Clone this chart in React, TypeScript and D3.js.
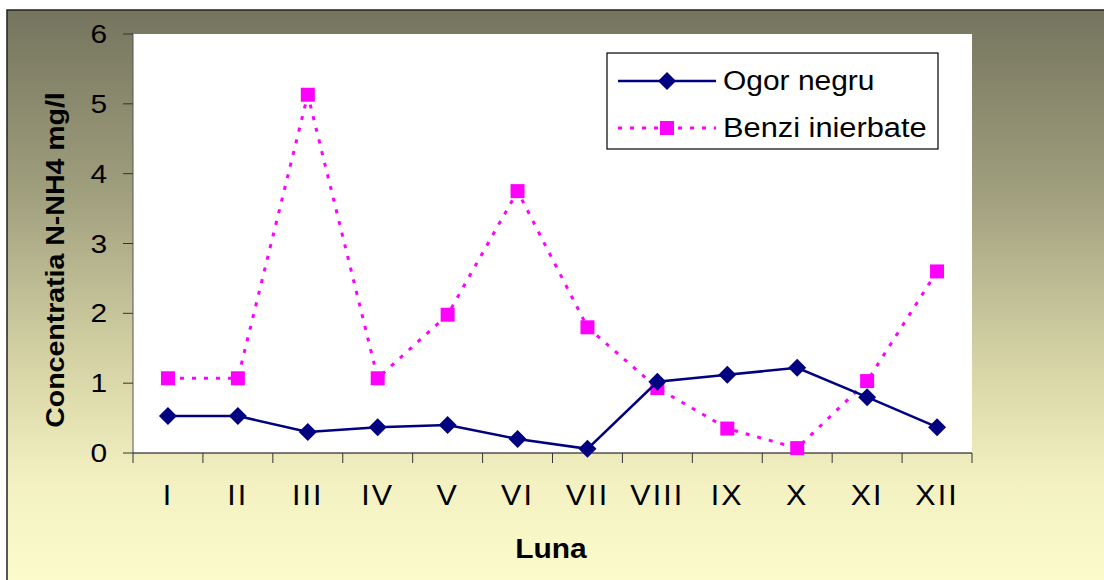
import React from 'react';
import * as d3 from 'd3';

const months = ['I', 'II', 'III', 'IV', 'V', 'VI', 'VII', 'VIII', 'IX', 'X', 'XI', 'XII'];
const ogorNegru = [0.53, 0.53, 0.3, 0.37, 0.4, 0.2, 0.06, 1.02, 1.12, 1.22, 0.8, 0.37];
const benziInierbate = [1.07, 1.07, 5.13, 1.07, 1.98, 3.75, 1.8, 0.93, 0.35, 0.07, 1.03, 2.6];
const yTicks = [0, 1, 2, 3, 4, 5, 6];

const NAVY = '#000080';
const MAGENTA = '#FF00FF';
const FONT = '"Liberation Sans", Arial, sans-serif';

function App() {
  const width = 1104, height = 580;
  const plot = { left: 133, right: 972, top: 34, bottom: 453 };

  const x = d3.scaleBand<string>()
    .domain(months)
    .range([plot.left, plot.right]);

  const y = d3.scaleLinear()
    .domain([0, 6])
    .range([plot.bottom, plot.top]);

  const cx = (m: string) => (x(m) as number) + x.bandwidth() / 2;

  const line = d3.line<number>()
    .x((_, i) => cx(months[i]))
    .y(d => y(d));

  const diamond = (px: number, py: number, r = 9) =>
    `M${px},${py - r}L${px + r},${py}L${px},${py + r}L${px - r},${py}Z`;

  const stretch = (tx: number, ty: number, s = 1.15) => `translate(${tx},${ty}) scale(${s},1)`;

  return (
    <svg width={width} height={height} style={{ position: 'absolute', left: 0, top: 0 }}>
      <defs>
        <linearGradient id="bg" x1="0" y1="0" x2="0" y2="1">
          <stop offset="0" stopColor="#75755f" />
          <stop offset="0.3" stopColor="#9e9d7c" />
          <stop offset="0.6" stopColor="#d6d4a6" />
          <stop offset="0.8" stopColor="#f3f1c1" />
          <stop offset="1" stopColor="#fefdcc" />
        </linearGradient>
      </defs>
      <rect x={0} y={0} width={width} height={height} fill="#ffffff" />
      <rect x={7} y={10} width={width + 10} height={height + 10} fill="url(#bg)" stroke="#222" strokeWidth={1.5} />

      {/* plot area */}
      <rect x={plot.left} y={plot.top} width={plot.right - plot.left} height={plot.bottom - plot.top} fill="#ffffff" />

      {/* y axis */}
      <line x1={plot.left} x2={plot.left} y1={plot.top} y2={plot.bottom} stroke="#555" strokeWidth={1} />
      {yTicks.map(t => (
        <g key={t}>
          <line x1={plot.left - 10} x2={plot.left} y1={y(t)} y2={y(t)} stroke="#333" strokeWidth={1} />
          <text transform={stretch(107, y(t) + 9)} textAnchor="end" fontFamily={FONT} fontSize={26} fill="#000">{t}</text>
        </g>
      ))}

      {/* x axis */}
      <line x1={plot.left} x2={plot.right} y1={plot.bottom} y2={plot.bottom} stroke="#000" strokeWidth={1.2} />
      {[...months.map(m => x(m) as number), plot.right].map((bx, i) => (
        <line key={i} x1={bx} x2={bx} y1={plot.bottom} y2={plot.bottom + 10} stroke="#333" strokeWidth={1} />
      ))}
      {months.map(m => (
        <text key={m} transform={stretch(cx(m), 505, 1.05)} textAnchor="middle" fontFamily={FONT} fontSize={29}
          letterSpacing={2} fill="#000">{m}</text>
      ))}

      {/* axis titles */}
      <text transform={stretch(551, 558, 1.07)} textAnchor="middle" fontFamily={FONT} fontSize={28} fontWeight="bold" fill="#000">Luna</text>
      <text transform={`translate(64,260) rotate(-90) scale(1.14,1)`} textAnchor="middle" fontFamily={FONT} fontSize={25}
        fontWeight="bold" fill="#000">Concentratia N-NH4 mg/l</text>

      {/* series: benzi inierbate */}
      <path d={line(benziInierbate) || ''} fill="none" stroke={MAGENTA} strokeWidth={3} strokeDasharray="4,8" />
      {benziInierbate.map((v, i) => (
        <rect key={i} x={cx(months[i]) - 7} y={y(v) - 7} width={14} height={14} fill={MAGENTA} />
      ))}

      {/* series: ogor negru */}
      <path d={line(ogorNegru) || ''} fill="none" stroke={NAVY} strokeWidth={2.5} />
      {ogorNegru.map((v, i) => (
        <path key={i} d={diamond(cx(months[i]), y(v))} fill={NAVY} />
      ))}

      {/* legend */}
      <rect x={607} y={53} width={331} height={96} fill="#ffffff" stroke="#000" strokeWidth={1.2} />
      <line x1={618} x2={716} y1={81} y2={81} stroke={NAVY} strokeWidth={2.5} />
      <path d={diamond(667, 81)} fill={NAVY} />
      <text transform={stretch(723, 90, 1.07)} fontFamily={FONT} fontSize={28} fill="#000">Ogor negru</text>
      <line x1={618} x2={716} y1={128} y2={128} stroke={MAGENTA} strokeWidth={3} strokeDasharray="4,8" />
      <rect x={660} y={121} width={14} height={14} fill={MAGENTA} />
      <text transform={stretch(723, 137, 1.1)} fontFamily={FONT} fontSize={28} fill="#000">Benzi inierbate</text>
    </svg>
  );
}

export default App;
